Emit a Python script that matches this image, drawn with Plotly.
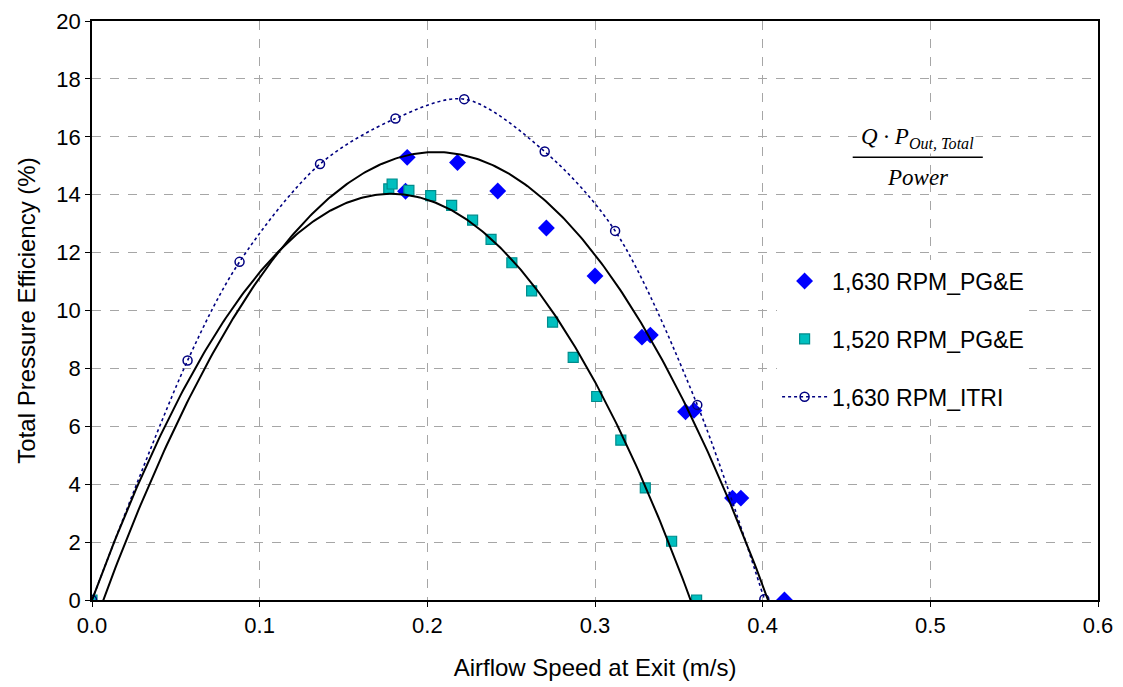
import numpy as np
import plotly.graph_objects as go

# ---- data ----
x_1630_pge = [0.187, 0.188, 0.218, 0.242, 0.271, 0.300, 0.328, 0.333, 0.354, 0.359, 0.382, 0.387, 0.413]
y_1630_pge = [14.12, 15.29, 15.11, 14.13, 12.85, 11.19, 9.08, 9.15, 6.50, 6.55, 3.52, 3.52, 0.00]

x_1520_pge = [0.000, 0.177, 0.179, 0.189, 0.202, 0.2145, 0.227, 0.238, 0.2504, 0.2622,
              0.2747, 0.287, 0.301, 0.3154, 0.330, 0.3457, 0.3606]
y_1520_pge = [0.00, 14.20, 14.37, 14.15, 13.97, 13.63, 13.12, 12.46, 11.65, 10.68,
              9.60, 8.38, 7.03, 5.52, 3.87, 2.03, 0.00]

x_itri = [0.000, 0.057, 0.088, 0.136, 0.181, 0.222, 0.270, 0.312, 0.361, 0.401]
y_itri = [0.00, 8.27, 11.68, 15.06, 16.63, 17.30, 15.49, 12.75, 6.74, 0.03]

# polynomial trendline coefficients (2nd order), highest power first
trend_1630 = [-393.4, 161.3, -1.06]
trend_1520 = [-440.3, 157.2, 0.0]
trend_x_1630 = [0.0, 0.413]
trend_x_1520 = [0.0, 0.3606]

series_names = ["1,630 RPM_PG&E", "1,520 RPM_PG&E", "1,630 RPM_ITRI"]
x_ticks = [0.0, 0.1, 0.2, 0.3, 0.4, 0.5, 0.6]
x_tick_text = ["0.0", "0.1", "0.2", "0.3", "0.4", "0.5", "0.6"]
y_ticks = [0, 2, 4, 6, 8, 10, 12, 14, 16, 18, 20]

FONT = "Arial, Liberation Sans, sans-serif"

fig = go.Figure()

fig.add_trace(go.Scatter(
    x=x_1630_pge, y=y_1630_pge, mode="markers", name=series_names[0], legendgroup="a",
    marker=dict(symbol="diamond", size=13, color="#0000FF", line=dict(width=0)),
))
fig.add_trace(go.Scatter(
    x=x_1520_pge, y=y_1520_pge, mode="markers", name=series_names[1], legendgroup="b",
    marker=dict(symbol="square", size=10, color="#00BFBF", line=dict(width=1.2, color="#008C8C")),
))
fig.add_trace(go.Scatter(
    x=x_itri, y=y_itri, mode="lines+markers", name=series_names[2], legendgroup="c",
    line=dict(color="#000080", width=1.6, dash="dot", shape="spline", smoothing=0.9),
    marker=dict(symbol="circle-open", size=9, color="#000080", line=dict(width=1.5)),
))

for coef, xr in ((trend_1630, trend_x_1630), (trend_1520, trend_x_1520)):
    xs = np.linspace(xr[0], xr[1], 300)
    fig.add_trace(go.Scatter(
        x=xs, y=np.polyval(coef, xs), mode="lines", showlegend=False, hoverinfo="skip",
        line=dict(color="black", width=2),
    ))

axis_common = dict(
    showline=True, linecolor="black", linewidth=1.5, mirror=True,
    showgrid=True, gridcolor="#A6A6A6", griddash="dash", gridwidth=1,
    zeroline=False, ticks="outside", ticklen=5, tickcolor="black",
    tickfont=dict(family=FONT, size=22, color="black"), automargin=False,
    ticklabeloverflow="allow",
)

fig.update_xaxes(range=[0, 0.6], tickvals=x_ticks, ticktext=x_tick_text,
                 title=dict(text="Airflow Speed at Exit (m/s)", font=dict(family=FONT, size=24, color="black"),
                            standoff=22),
                 **axis_common)
fig.update_yaxes(range=[0, 20], tickvals=y_ticks,
                 title=dict(text="Total Pressure Efficiency (%)", font=dict(family=FONT, size=24, color="black"),
                            standoff=14),
                 **axis_common)

# formula annotation
SERIF = "Liberation Serif, Times New Roman, serif"
fig.add_annotation(x=0.4926, y=15.95, xref="x", yref="y", showarrow=False,
                   text="<i>Q · P<sub>Out, Total</sub></i>",
                   font=dict(family=SERIF, size=23, color="black"), bgcolor="white")
fig.add_shape(type="line", xref="x", yref="y", x0=0.4537, x1=0.5313, y0=15.29, y1=15.29,
              line=dict(color="black", width=1.5))
fig.add_annotation(x=0.4926, y=14.6, xref="x", yref="y", showarrow=False,
                   text="<i>Power</i>",
                   font=dict(family=SERIF, size=23, color="black"))

fig.update_layout(
    width=1123, height=687,
    margin=dict(l=84, r=33, t=13, b=95, autoexpand=False),
    paper_bgcolor="white", plot_bgcolor="white",
    showlegend=True,
    legend=dict(x=0.681, y=0.588, xanchor="left", yanchor="top",
                bgcolor="white", borderwidth=0, traceorder="grouped",
                tracegroupgap=25, itemwidth=45,
                font=dict(family=FONT, size=23, color="black")),
    font=dict(family=FONT, color="black"),
)

fig.write_html("out.html")
